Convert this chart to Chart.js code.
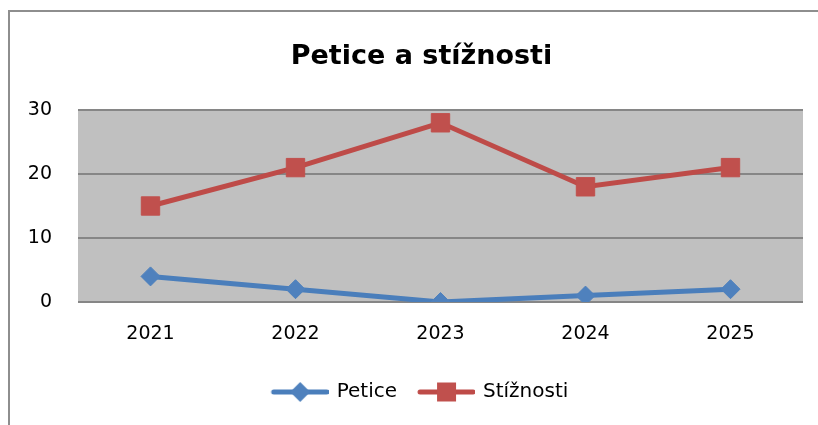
<!DOCTYPE html>
<html><head><meta charset="utf-8">
<script src="https://cdn.jsdelivr.net/npm/chart.js@4"></script>
<style>html,body{margin:0;padding:0;background:#fff;overflow:hidden}canvas{display:block}</style>
</head><body>
<canvas id="c" width="818" height="425"></canvas>
<script>
const categories = ['2021', '2022', '2023', '2024', '2025'];
const peticeValues = [4, 2, 0, 1, 2];
const stiznostiValues = [15, 21, 28, 18, 21];
const seriesNames = ['Petice', 'Stížnosti'];
const chartTitle = 'Petice a stížnosti';
const yMin = 0, yMax = 30, yStep = 10;

const BLUE = '#4a7ebb', BLUE_M = '#4f81bd';
const RED = '#be4b48', RED_M = '#c0504d';
const FONT = "'DejaVu Sans', sans-serif";

function legendIcon(lineColor, markColor, kind) {
  const cv = document.createElement('canvas');
  cv.width = 70; cv.height = 24;
  const g = cv.getContext('2d');
  g.strokeStyle = lineColor; g.lineWidth = 5; g.lineCap = 'round';
  g.beginPath(); g.moveTo(15, 12); g.lineTo(68, 12); g.stroke();
  g.fillStyle = markColor;
  const cx = 41.5, cy = 12;
  g.beginPath();
  if (kind === 'rect') {
    g.rect(cx - 9.5, cy - 9.5, 19, 19);
  } else {
    g.moveTo(cx, cy - 10); g.lineTo(cx + 10, cy); g.lineTo(cx, cy + 10); g.lineTo(cx - 10, cy); g.closePath();
  }
  g.fill();
  return cv;
}
const icons = [legendIcon(BLUE, BLUE_M, 'diamond'), legendIcon(RED, RED_M, 'rect')];

const decor = {
  id: 'decor',
  afterLayout(chart) {
    if (chart.titleBlock) { chart.titleBlock.left += 7; chart.titleBlock.right += 7; }
  },
  beforeDraw(chart) {
    const {ctx, chartArea: a} = chart;
    ctx.save();
    ctx.fillStyle = '#c0c0c0';
    ctx.fillRect(a.left, a.top, a.right - a.left, a.bottom - a.top);
    ctx.strokeStyle = '#8e8e8e';
    ctx.lineWidth = 2;
    ctx.beginPath();
    ctx.moveTo(9, 425); ctx.lineTo(9, 11); ctx.lineTo(818, 11);
    ctx.stroke();
    ctx.restore();
  }
};

new Chart(document.getElementById('c'), {
  type: 'line',
  data: {
    labels: categories,
    datasets: [
      {
        label: seriesNames[0], data: peticeValues,
        borderColor: BLUE, backgroundColor: BLUE_M, borderWidth: 5,
        pointStyle: 'rectRot', pointRadius: 9.5, pointBorderWidth: 1,
        pointBorderColor: BLUE_M, pointBackgroundColor: BLUE_M, tension: 0
      },
      {
        label: seriesNames[1], data: stiznostiValues,
        borderColor: RED, backgroundColor: RED_M, borderWidth: 5,
        pointStyle: 'rect', pointRadius: 13, pointBorderWidth: 1,
        pointBorderColor: RED_M, pointBackgroundColor: RED_M, tension: 0
      }
    ]
  },
  options: {
    responsive: false,
    animation: false,
    events: [],
    layout: { padding: { left: 26, right: 15, top: 11, bottom: 13 } },
    plugins: {
      title: {
        display: true, text: chartTitle, color: '#000',
        font: { family: FONT, size: 27, weight: 'bold' },
        padding: { top: 29.8, bottom: 36.8 }
      },
      legend: {
        position: 'bottom',
        labels: {
          color: '#000',
          font: { family: FONT, size: 20 },
          usePointStyle: true,
          pointStyleWidth: 66,
          padding: 10,
          generateLabels(chart) {
            return chart.data.datasets.map((ds, i) => ({
              text: ds.label, pointStyle: icons[i], datasetIndex: i,
              fillStyle: ds.borderColor, strokeStyle: ds.borderColor, lineWidth: 0,
              hidden: false, fontColor: '#000'
            }));
          }
        }
      },
      tooltip: { enabled: false }
    },
    scales: {
      x: {
        offset: true,
        grid: { display: false, drawTicks: false },
        border: { display: false },
        ticks: { color: '#000', font: { family: FONT, size: 19 }, padding: 21, maxRotation: 0 },
        afterFit(s) { s.height = 70; }
      },
      y: {
        min: yMin, max: yMax,
        grid: { color: '#868686', lineWidth: 2, drawTicks: false },
        border: { display: false },
        ticks: { stepSize: yStep, color: '#000', font: { family: FONT, size: 19 }, padding: 26 },
        afterFit(s) { s.width = 52; }
      }
    }
  },
  plugins: [decor]
});
</script>
</body></html>
